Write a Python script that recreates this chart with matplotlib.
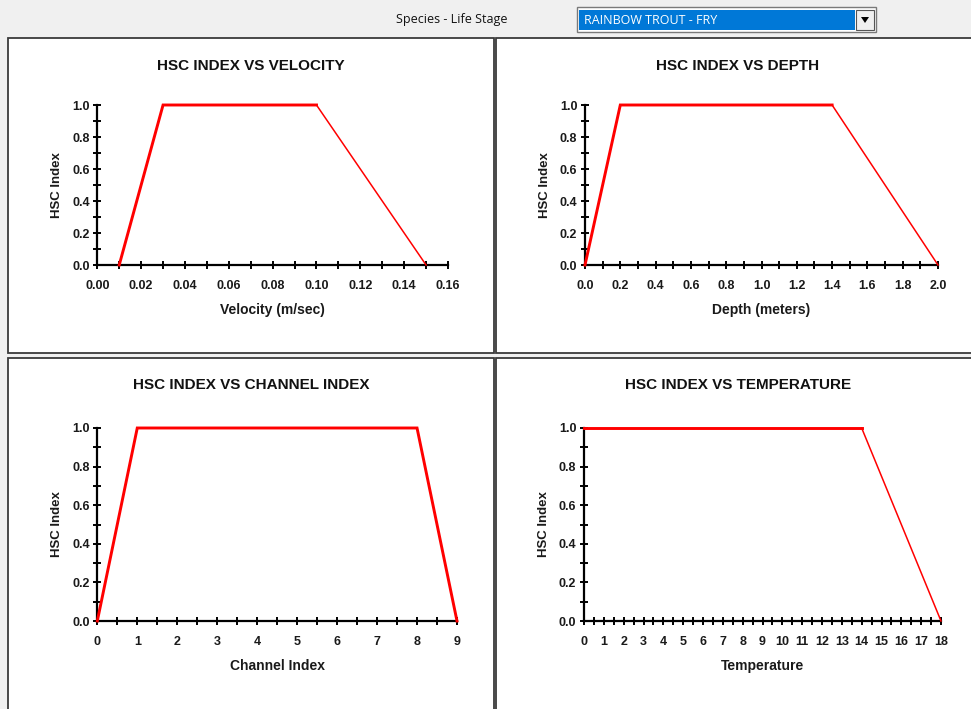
import matplotlib.pyplot as plt
from matplotlib.patches import Rectangle, Polygon
from matplotlib.ticker import MultipleLocator, FormatStrFormatter

plt.rcParams['font.family'] = ['Liberation Sans', 'DejaVu Sans']

# habitat suitability curves, rainbow trout fry
velocity_x = [0.01, 0.03, 0.10, 0.15]
velocity_y = [0.0, 1.0, 1.0, 0.0]
depth_x = [0.0, 0.2, 1.4, 2.0]
depth_y = [0.0, 1.0, 1.0, 0.0]
channel_x = [0, 1, 8, 9]
channel_y = [0.0, 1.0, 1.0, 0.0]
temp_x = [0, 14, 18]
temp_y = [1.0, 1.0, 0.0]

W, H = 971, 709
fig = plt.figure(figsize=(W / 100, H / 100), dpi=100, facecolor='#f0f0f0')


def fx(x):
    return x / W


def fy(y):
    return 1 - y / H


# white panels with sunken borders
for x0, y0, x1, y1 in [(8, 38, 494, 353), (496, 38, 980, 353),
                       (8, 358, 494, 720), (496, 358, 980, 720)]:
    fig.patches.append(Rectangle((fx(x0), fy(y1)), fx(x1 - x0), (y1 - y0) / H,
                                 transform=fig.transFigure, facecolor='white',
                                 edgecolor='#3a3a3a', lw=1.3, zorder=-2))

# header: species selector
fig.text(fx(396), fy(19), 'Species - Life Stage', fontsize=9, va='center', ha='left',
         family=['Open Sans', 'DejaVu Sans'], color='#111111')
fig.patches.append(Rectangle((fx(577), fy(32)), fx(299), 25 / H, transform=fig.transFigure,
                             facecolor='white', edgecolor='#7a7a7a', lw=1, zorder=-2))
fig.patches.append(Rectangle((fx(579), fy(30)), fx(276), 20 / H, transform=fig.transFigure,
                             facecolor='#0078d7', edgecolor='none', zorder=-1))
fig.patches.append(Rectangle((fx(856), fy(30)), fx(18), 20 / H, transform=fig.transFigure,
                             facecolor='#f0f0f0', edgecolor='#555555', lw=0.8, zorder=-1))
fig.patches.append(Polygon([(fx(861), fy(17)), (fx(869), fy(17)), (fx(865), fy(23))],
                           closed=True, transform=fig.transFigure, facecolor='black'))
fig.text(fx(584), fy(20), 'RAINBOW TROUT - FRY', fontsize=9, va='center', ha='left',
         family=['Open Sans', 'DejaVu Sans'], color='white')

# 'heavy' = number of leading points drawn with the heavy pen
panels = [
    dict(box=(97.3, 105, 448, 265), title_at=(251, 66), x=velocity_x, y=velocity_y,
         title='HSC INDEX VS VELOCITY', xlabel='Velocity (m/sec)',
         xmax=0.16, major=0.02, minor=0.01, fmt='%.2f', heavy=3),
    dict(box=(585, 105, 938, 265), title_at=(738, 66), x=depth_x, y=depth_y,
         title='HSC INDEX VS DEPTH', xlabel='Depth (meters)',
         xmax=2.0, major=0.2, minor=0.1, fmt='%.1f', heavy=3),
    dict(box=(97.3, 428, 457, 621), title_at=(251, 385), x=channel_x, y=channel_y,
         title='HSC INDEX VS CHANNEL INDEX', xlabel='Channel Index',
         xmax=9, major=1, minor=0.5, fmt='%d', heavy=4),
    dict(box=(584, 428, 941, 621), title_at=(738, 385), x=temp_x, y=temp_y,
         title='HSC INDEX VS TEMPERATURE', xlabel='Temperature',
         xmax=18, major=1, minor=0.5, fmt='%d', heavy=2),
]

for p in panels:
    x0, y0, x1, y1 = p['box']
    ax = fig.add_axes([fx(x0), fy(y1), fx(x1 - x0), (y1 - y0) / H])
    ax.set_facecolor('none')
    k = p['heavy']
    ax.plot(p['x'][:k], p['y'][:k], color='#ff0000', lw=2.1, clip_on=False,
            solid_joinstyle='miter', zorder=3)
    if k < len(p['x']):
        ax.plot(p['x'][k - 1:], p['y'][k - 1:], color='#ff0000', lw=1.1,
                clip_on=False, zorder=3)
    ax.set_xlim(0, p['xmax'])
    ax.set_ylim(0, 1.0)
    for s in ('top', 'right'):
        ax.spines[s].set_visible(False)
    for s in ('left', 'bottom'):
        ax.spines[s].set_linewidth(1.6)
    ax.xaxis.set_major_locator(MultipleLocator(p['major']))
    ax.xaxis.set_minor_locator(MultipleLocator(p['minor']))
    ax.xaxis.set_major_formatter(FormatStrFormatter(p['fmt']))
    ax.yaxis.set_major_locator(MultipleLocator(0.2))
    ax.yaxis.set_minor_locator(MultipleLocator(0.1))
    ax.yaxis.set_major_formatter(FormatStrFormatter('%.1f'))
    ax.tick_params(which='both', direction='inout', length=6, width=1.4, color='black')
    ax.tick_params(axis='x', which='major', pad=8)
    ax.tick_params(axis='y', which='major', pad=2.5)
    for lab in ax.get_xticklabels() + ax.get_yticklabels():
        lab.set_fontweight('bold')
        lab.set_fontsize(9)
        lab.set_color('#1a1a1a')
    ax.set_xlabel(p['xlabel'], fontsize=10, fontweight='bold', color='#1a1a1a')
    ax.set_ylabel('HSC Index', fontsize=9.5, fontweight='bold', color='#1a1a1a')
    wpx, hpx = x1 - x0, y1 - y0
    ax.xaxis.set_label_coords(0.5, -45 / hpx)
    ax.xaxis.label.set_va('center')
    ax.yaxis.set_label_coords(-40 / wpx, 0.5)
    ax.yaxis.label.set_va('center')
    tx, ty = p['title_at']
    fig.text(fx(tx), fy(ty), p['title'], fontsize=11, fontweight='bold',
             ha='center', va='center', color='#111111')

fig.savefig('out.png', dpi=100, facecolor=fig.get_facecolor())
